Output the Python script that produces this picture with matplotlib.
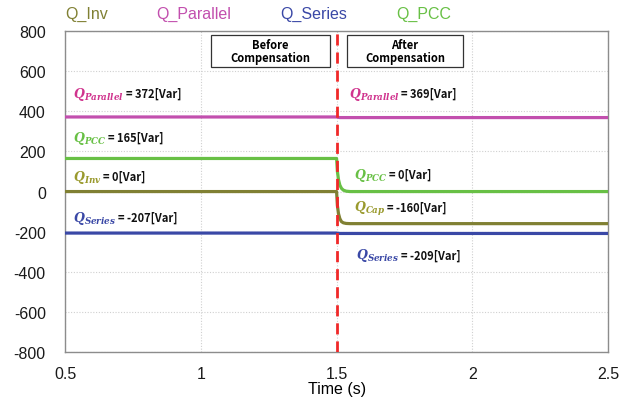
import matplotlib
matplotlib.use("Agg")
import matplotlib.pyplot as plt
from matplotlib.patches import Rectangle

plt.rcParams["font.family"] = ["Liberation Sans", "DejaVu Sans"]
plt.rcParams["mathtext.fontset"] = "dejavuserif"
plt.rcParams["axes.unicode_minus"] = False

# Reactive power traces (Var) versus time (s); compensation switched on at 1.5 s
time_s = [0.5, 1.5, 1.503, 1.507, 1.512, 1.518, 1.525, 1.535, 1.55, 2.5]
q_inv = [0, 0, -70, -110, -135, -150, -156, -159, -160, -160]
q_parallel = [372, 372, 371, 370, 369, 369, 369, 369, 369, 369]
q_series = [-207, -207, -208, -208, -209, -209, -209, -209, -209, -209]
q_pcc = [165, 165, 100, 60, 32, 16, 7, 2, 0, 0]

switch_time = 1.5

series_names = ["Q_Inv", "Q_Parallel", "Q_Series", "Q_PCC"]
series_colors = ["#808033", "#c24fae", "#3a48a6", "#68c045"]

x_ticks = [0.5, 1, 1.5, 2, 2.5]
x_tick_labels = ["0.5", "1", "1.5", "2", "2.5"]
y_ticks = [-800, -600, -400, -200, 0, 200, 400, 600, 800]

# (subscript, value text, colour, x, y)
labels = [
    ("Parallel", "= 372[Var]", "#d0348e", 0.53, 490),
    ("PCC", "= 165[Var]", "#68c045", 0.53, 270),
    ("Inv", "= 0[Var]", "#9a9a2e", 0.53, 75),
    ("Series", "= -207[Var]", "#3a48a6", 0.53, -130),
    ("Parallel", "= 369[Var]", "#d0348e", 1.545, 490),
    ("PCC", "= 0[Var]", "#68c045", 1.565, 85),
    ("Cap", "= -160[Var]", "#9a9a2e", 1.565, -80),
    ("Series", "= -209[Var]", "#3a48a6", 1.572, -315),
]

fig = plt.figure(figsize=(6.21, 4.02), dpi=100)
ax = fig.add_axes([0.105, 0.122, 0.874, 0.798])

for vals, c in zip([q_inv, q_parallel, q_series, q_pcc], series_colors):
    ax.plot(time_s, vals, color=c, lw=2.3, solid_joinstyle="round", zorder=3)

ax.axvline(switch_time, color="#f02828", lw=2.0, ls=(0, (4, 2.5)), zorder=4)

ax.set_xlim(0.5, 2.5)
ax.set_ylim(-800, 800)
ax.set_xticks(x_ticks)
ax.set_xticklabels(x_tick_labels)
ax.set_yticks(y_ticks)
ax.tick_params(length=0, labelsize=11.5, colors="#1a1a1a")
ax.tick_params(axis="y", pad=14)
ax.tick_params(axis="x", pad=10)
ax.grid(True, color="#d0d0d0", ls=(0, (1, 1.5)), lw=0.8)
for s in ax.spines.values():
    s.set_color("#8c8c8c")
    s.set_linewidth(1.0)
ax.set_xlabel("Time (s)", fontsize=11.5, labelpad=0)

# Series names across the top
name_x = [0.105, 0.251, 0.451, 0.638]
for name, c, xf in zip(series_names, series_colors, name_x):
    fig.text(xf, 0.963, name, color=c, fontsize=11.5, ha="left", va="center")

# Before / After boxes
box_font = ["Noto Sans CJK KR", "DejaVu Sans"]
for x0, x1, txt in [(1.039, 1.474, "Before\nCompensation"),
                    (1.54, 1.965, "After\nCompensation")]:
    ax.add_patch(Rectangle((x0, 620), x1 - x0, 160, fill=True, fc="white",
                           ec="#333333", lw=0.9, zorder=5))
    ax.text((x0 + x1) / 2, 700, txt, ha="center", va="center", fontsize=8,
            fontweight="bold", family=box_font, linespacing=1.0, zorder=6)

# Value annotations
for sub, val, c, x, y in labels:
    q = ax.text(x, y, r"$\mathbfit{Q}_{\mathbfit{%s}}$" % sub, color=c,
                fontsize=9, ha="left", va="center", zorder=6)
    ax.annotate(val, xy=(1, 0.5), xycoords=q, xytext=(1, 0),
                textcoords="offset points", ha="left", va="center",
                fontsize=8, fontweight="bold", family=box_font, color="#111111",
                zorder=6)

fig.savefig("out.png", dpi=100)
